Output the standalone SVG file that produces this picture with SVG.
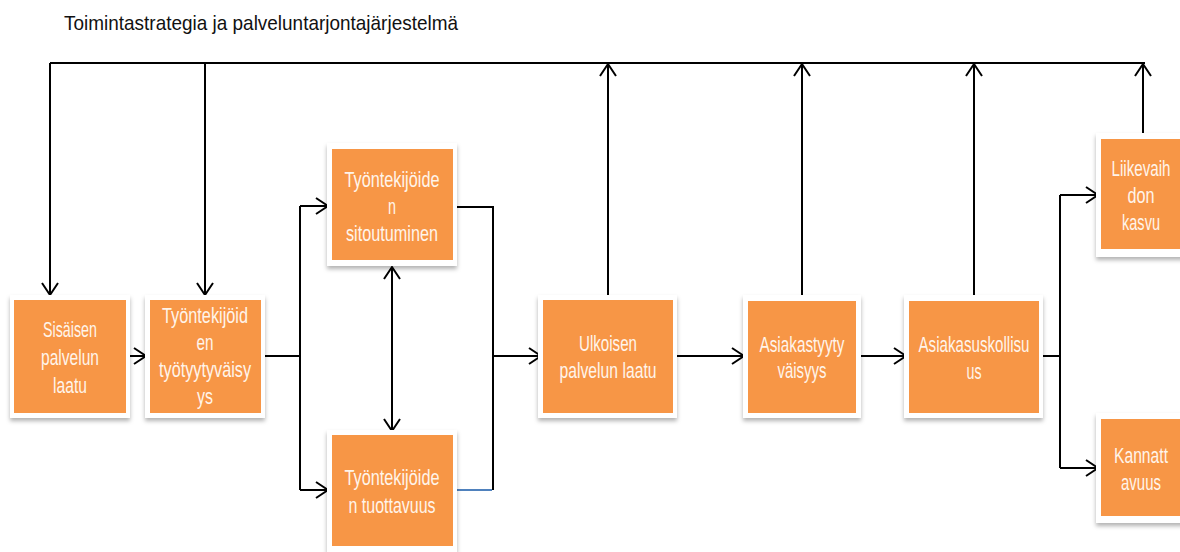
<svg xmlns="http://www.w3.org/2000/svg" width="1180" height="552" viewBox="0 0 1180 552">
<style>
.frame{fill:#ffffff;filter:url(#sh)}
.box{fill:#F79646}
.lbl{font-family:"Liberation Sans",Arial,sans-serif;font-size:22.5px;fill:#FFF4EA;text-anchor:middle}
.title{font-family:"Liberation Sans",Arial,sans-serif;font-size:21px;fill:#111}
.ln{fill:none;stroke:#000;stroke-width:2}
</style>
<defs>
<filter id="sh" x="-20%" y="-20%" width="140%" height="140%">
<feDropShadow dx="0" dy="3" stdDeviation="2" flood-color="#000" flood-opacity="0.3"/>
</filter>
<marker id="arr" viewBox="-14 -10 16 20" markerWidth="16" markerHeight="20" refX="0" refY="0" orient="auto-start-reverse" markerUnits="userSpaceOnUse">
<path d="M-12,-8 L0,0 L-12,8" fill="none" stroke="#000" stroke-width="2"/>
</marker>
</defs>
<rect width="1180" height="552" fill="#ffffff"/>
<text class="title" x="64" y="30" textLength="394" lengthAdjust="spacingAndGlyphs">Toimintastrategia ja palveluntarjontajärjestelmä</text>

<g id="connectors">
<path class="ln" d="M50,63 H1145" stroke-width="2.5"/>
<path class="ln" d="M50,63 V295" marker-end="url(#arr)"/>
<path class="ln" d="M205,63 V295" marker-end="url(#arr)"/>
<path class="ln" d="M608,295 V64" marker-end="url(#arr)"/>
<path class="ln" d="M802,295 V64" marker-end="url(#arr)"/>
<path class="ln" d="M974,295 V64" marker-end="url(#arr)"/>
<path class="ln" d="M1143,133 V64" marker-end="url(#arr)"/>
<path class="ln" d="M130,356 H146" marker-end="url(#arr)"/>
<path class="ln" d="M265,356 H300"/>
<path class="ln" d="M300,206 V490"/>
<path class="ln" d="M300,206 H328" marker-end="url(#arr)"/>
<path class="ln" d="M300,490 H328" marker-end="url(#arr)"/>
<path class="ln" d="M457,207 H493 V490"/>
<path d="M457,490 H492" fill="none" stroke="#4F81BD" stroke-width="2"/>
<path class="ln" d="M493,356 H541" marker-end="url(#arr)"/>
<path class="ln" d="M392,267 V431" marker-start="url(#arr)" marker-end="url(#arr)"/>
<path class="ln" d="M677,356 H744" marker-end="url(#arr)"/>
<path class="ln" d="M861,356 H906" marker-end="url(#arr)"/>
<path class="ln" d="M1043,356 H1060"/>
<path class="ln" d="M1060,195 V468"/>
<path class="ln" d="M1060,195 H1098" marker-end="url(#arr)"/>
<path class="ln" d="M1060,468 H1098" marker-end="url(#arr)"/>
</g>

<g id="n1">
<rect class="frame" x="10" y="295" width="120" height="123"/>
<rect class="box" x="14" y="300" width="112" height="113"/>
<text class="lbl" x="70" y="337" textLength="54" lengthAdjust="spacingAndGlyphs">Sisäisen</text>
<text class="lbl" x="70" y="365" textLength="58" lengthAdjust="spacingAndGlyphs">palvelun</text>
<text class="lbl" x="70" y="393" textLength="34" lengthAdjust="spacingAndGlyphs">laatu</text>
</g>

<g id="n2">
<rect class="frame" x="145" y="295" width="120" height="123"/>
<rect class="box" x="150" y="300" width="111" height="113"/>
<text class="lbl" x="205" y="323" textLength="86" lengthAdjust="spacingAndGlyphs">Työntekijöid</text>
<text class="lbl" x="205" y="350" textLength="17" lengthAdjust="spacingAndGlyphs">en</text>
<text class="lbl" x="205" y="377" textLength="92" lengthAdjust="spacingAndGlyphs">työtyytyväisy</text>
<text class="lbl" x="205" y="404" textLength="16" lengthAdjust="spacingAndGlyphs">ys</text>
</g>

<g id="n3">
<rect class="frame" x="327" y="143" width="130" height="123"/>
<rect class="box" x="332" y="149" width="121" height="111"/>
<text class="lbl" x="392" y="187" textLength="95" lengthAdjust="spacingAndGlyphs">Työntekijöide</text>
<text class="lbl" x="392" y="214" textLength="8" lengthAdjust="spacingAndGlyphs">n</text>
<text class="lbl" x="392" y="241" textLength="92" lengthAdjust="spacingAndGlyphs">sitoutuminen</text>
</g>

<g id="n4">
<rect class="frame" x="327" y="430" width="130" height="122"/>
<rect class="box" x="332" y="435" width="121" height="111"/>
<text class="lbl" x="392" y="485" textLength="95" lengthAdjust="spacingAndGlyphs">Työntekijöide</text>
<text class="lbl" x="392" y="513" textLength="87" lengthAdjust="spacingAndGlyphs">n tuottavuus</text>
</g>

<g id="n5">
<rect class="frame" x="538" y="295" width="139" height="123"/>
<rect class="box" x="543" y="300" width="130" height="113"/>
<text class="lbl" x="608" y="351" textLength="58" lengthAdjust="spacingAndGlyphs">Ulkoisen</text>
<text class="lbl" x="608" y="378" textLength="97" lengthAdjust="spacingAndGlyphs">palvelun laatu</text>
</g>

<g id="n6">
<rect class="frame" x="743" y="295" width="118" height="123"/>
<rect class="box" x="748" y="301" width="108" height="112"/>
<text class="lbl" x="802" y="352" textLength="85" lengthAdjust="spacingAndGlyphs">Asiakastyyty</text>
<text class="lbl" x="802" y="378" textLength="49" lengthAdjust="spacingAndGlyphs">väisyys</text>
</g>

<g id="n7">
<rect class="frame" x="904" y="295" width="139" height="123"/>
<rect class="box" x="909" y="301" width="130" height="112"/>
<text class="lbl" x="974" y="352" textLength="111" lengthAdjust="spacingAndGlyphs">Asiakasuskollisu</text>
<text class="lbl" x="974" y="379" textLength="15" lengthAdjust="spacingAndGlyphs">us</text>
</g>

<g id="n8">
<rect class="frame" x="1096" y="133" width="90" height="124"/>
<rect class="box" x="1101" y="139" width="79" height="110"/>
<g transform="translate(1141,0) scale(0.68,1)">
<text class="lbl" x="0" y="176" textLength="86.8" lengthAdjust="spacingAndGlyphs">Liikevaih</text>
<text class="lbl" x="0" y="203" textLength="39.7" lengthAdjust="spacingAndGlyphs">don</text>
<text class="lbl" x="0" y="230" textLength="55.9" lengthAdjust="spacingAndGlyphs">kasvu</text>
</g>
</g>

<g id="n9">
<rect class="frame" x="1096" y="413" width="90" height="110"/>
<rect class="box" x="1101" y="419" width="79" height="97"/>
<g transform="translate(1141,0) scale(0.68,1)">
<text class="lbl" x="0" y="463" textLength="79.4" lengthAdjust="spacingAndGlyphs">Kannatt</text>
<text class="lbl" x="0" y="490" textLength="58.8" lengthAdjust="spacingAndGlyphs">avuus</text>
</g>
</g>
</svg>
